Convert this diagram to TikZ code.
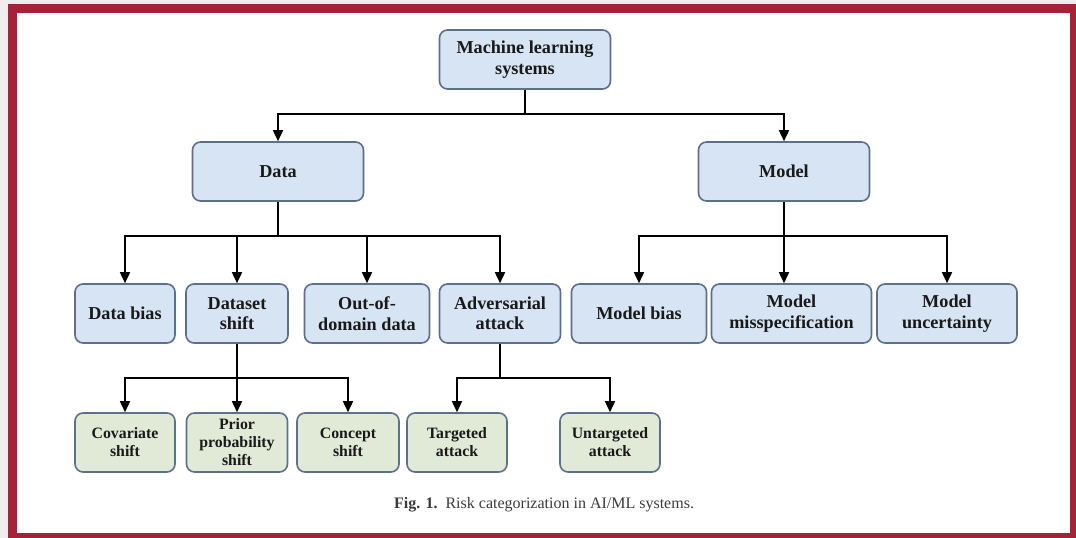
\documentclass[tikz,border=0pt]{standalone}
\usepackage{fontspec}
\setmainfont{Liberation Serif}
\usetikzlibrary{arrows.meta,positioning}
\definecolor{framered}{RGB}{166,34,56}
\definecolor{pagegray}{RGB}{238,238,238}
\definecolor{boxblue}{RGB}{214,228,243}
\definecolor{boxgreen}{RGB}{225,233,215}
\definecolor{boxline}{RGB}{92,112,140}
\definecolor{inkdark}{RGB}{25,25,25}
\tikzset{
  catbox/.style={draw=boxline, fill=boxblue, rounded corners=8pt, line width=1.6pt,
                 minimum height=59pt, inner sep=2pt, align=center, text=inkdark,
                 font=\fontsize{18.2}{20.5}\selectfont\bfseries},
  subbox/.style={catbox, fill=boxgreen, minimum width=100pt,
                 font=\fontsize{15.8}{18}\selectfont\bfseries},
  link/.style={line width=1.6pt, black, -{Triangle[length=11pt,width=10pt]}},
  trunk/.style={line width=1.6pt, black},
  caption/.style={font=\fontsize{16}{18}\selectfont, text=inkdark!85},
}

\begin{document}
\begin{tikzpicture}[x=1pt, y=-1pt]
  \useasboundingbox (0,0) rectangle (1076,538);
  % frame
  \fill[pagegray] (0,0) rectangle (1076,538);
  \fill[framered] (8,4) rectangle (1076,538);
  \fill[white] (17,13) rectangle (1070,533);

  % top and first level
  \node[catbox, minimum width=171pt] (mls) at (525,59.5) {Machine learning\\systems};
  \node[catbox, minimum width=171pt] (data) at (278,171.5) {Data};
  \node[catbox, minimum width=171pt] (model) at (784,171.5) {Model};

  % second level
  \node[catbox, minimum width=100pt] (dbias) at (125,313.5) {Data bias};
  \node[catbox, minimum width=102pt] (dshift) at (237,313.5) {Dataset\\shift};
  \node[catbox, minimum width=125pt] (ood) at (367,313.5) {Out-of-\\domain data};
  \node[catbox, minimum width=121pt] (adv) at (500,313.5) {Adversarial\\attack};
  \node[catbox, minimum width=135pt] (mbias) at (639,313.5) {Model bias};
  \node[catbox, minimum width=160pt] (mmis) at (791.5,313.5) {Model\\misspecification};
  \node[catbox, minimum width=140pt] (munc) at (947,313.5) {Model\\uncertainty};

  % third level
  \node[subbox] (cov) at (125,442.5) {Covariate\\shift};
  \node[subbox, minimum width=101pt] (prior) at (237,442.5) {Prior\\probability\\shift};
  \node[subbox, minimum width=102pt] (concept) at (348,442.5) {Concept\\shift};
  \node[subbox] (targ) at (457,442.5) {Targeted\\attack};
  \node[subbox] (untarg) at (610,442.5) {Untargeted\\attack};

  % connectors
  \path (mls.south) ++(0,24) coordinate (mlsbar);
  \draw[trunk] (mls.south) -- (mlsbar);
  \foreach \c in {data,model} \draw[link] (mlsbar) -| (\c.north);

  \path (data.south) ++(0,34) coordinate (databar);
  \draw[trunk] (data.south) -- (databar);
  \foreach \c in {dbias,dshift,ood,adv} \draw[link] (databar) -| (\c.north);

  \path (model.south) ++(0,34) coordinate (modelbar);
  \draw[link] (model.south) -- (mmis.north -| model.south);
  \foreach \c in {mbias,munc} \draw[link] (modelbar) -| (\c.north);

  \path (dshift.south) ++(0,34) coordinate (dsbar);
  \draw[link] (dshift.south) -- (prior.north);
  \foreach \c in {cov,concept} \draw[link] (dsbar) -| (\c.north);

  \path (adv.south) ++(0,34) coordinate (advbar);
  \draw[trunk] (adv.south) -- (advbar);
  \foreach \c in {targ,untarg} \draw[link] (advbar) -| (\c.north);

  \node[caption] (cap) at (544,505) {\textbf{Fig. 1.}\ \ Risk categorization in AI/ML systems.};
\end{tikzpicture}
\end{document}
